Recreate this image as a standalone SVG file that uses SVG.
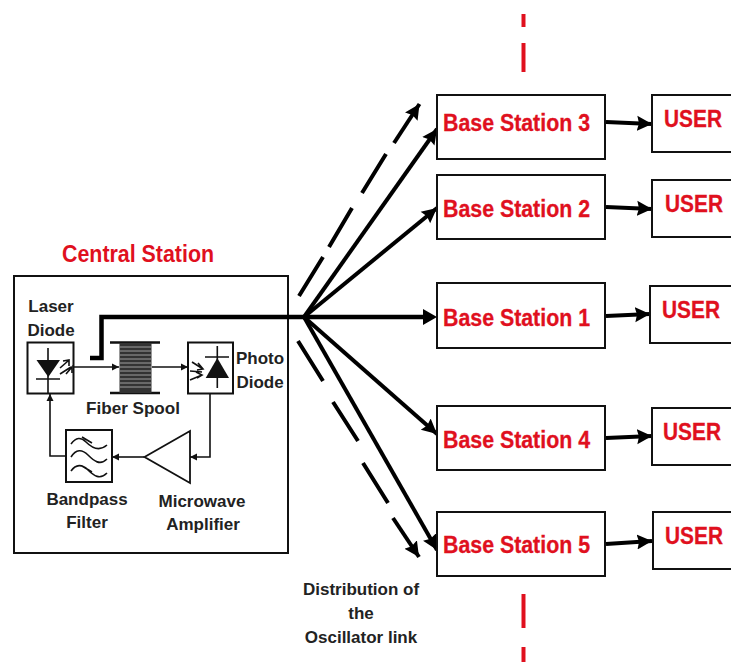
<svg xmlns="http://www.w3.org/2000/svg" width="731" height="662" viewBox="0 0 731 662">
<style>
text{font-family:"Liberation Sans",Arial,sans-serif;font-weight:700}
.b{fill:#fff;stroke:#111;stroke-width:2}
.bs{font-size:23px;fill:#e0101e;stroke:#e0101e;stroke-width:0.300}
.u{font-size:23px;fill:#e0101e;stroke:#e0101e;stroke-width:0.300}
.k{font-size:17px;fill:#222;text-anchor:middle}
.t{fill:none;stroke:#111;stroke-width:1.6}
.f{fill:#111;stroke:none}
.c{fill:none;stroke:#000;stroke-width:4}
.d{fill:none;stroke:#000;stroke-width:4}
.r{fill:none;stroke:#e0101e;stroke-width:4}
</style>
<defs>
<marker id="sm" markerUnits="userSpaceOnUse" markerWidth="8" markerHeight="8" refX="7" refY="4" orient="auto"><path d="M0,0.5L7,4L0,7.5z" fill="#111"/></marker>
<marker id="big" markerUnits="userSpaceOnUse" markerWidth="17" markerHeight="18" refX="15" refY="9" orient="auto"><path d="M0,1.500L15,9L0,16.500L2,9z" fill="#000"/></marker>
</defs>
<g id="divider">
<line class="r" x1="523.500" y1="14" x2="523.500" y2="27"/>
<line class="r" x1="523.500" y1="43" x2="523.500" y2="72"/>
<line class="r" x1="523.500" y1="594" x2="523.500" y2="628"/>
<line class="r" x1="523.500" y1="647" x2="523.500" y2="662"/>
</g>
<g id="central-station">
<text x="138" y="262" font-size="23" fill="#e0101e" text-anchor="middle" textLength="152" lengthAdjust="spacingAndGlyphs">Central Station</text>
<rect class="b" x="14" y="276" width="274" height="277"/>
</g>
<g id="laser-diode">
<text class="k" x="51" y="312">Laser</text><text class="k" x="51" y="336">Diode</text>
<rect class="b" x="27.500" y="342.500" width="46" height="51"/>
<path class="t" d="M48,348V393M36,379H60"/><path class="f" d="M36.500,360H60L48.300,377z"/>
<path class="t" d="M60,368L68,361M60,374L71,367M63,361L69,360L69,366M66,374L72,367L72,373"/>
</g>
<g id="fiber-spool">
<path d="M110,342.500H160M110,393H160" stroke="#111" stroke-width="2.500" fill="none"/>
<rect x="119.500" y="343" width="32" height="50" fill="#333"/>
<path d="M120,347H151M120,351H151M120,355H151M120,359H151M120,363H151M120,367H151M120,371H151M120,375H151M120,379H151M120,383H151M120,387H151" stroke="#bbb" stroke-width="0.800"/>
<text class="k" x="133" y="414" textLength="94" lengthAdjust="spacingAndGlyphs">Fiber Spool</text>
</g>
<g id="photo-diode">
<rect class="b" x="188" y="342.500" width="45" height="51"/>
<path class="t" d="M217.300,346V388M205,357H229"/><path class="f" d="M205.700,378H229L217.300,358z"/>
<path class="t" d="M192,362L203,369M190,371L202,372M190,380L202,375M198,363L203,369L197,370M196,372L202,375L197,378"/>
<text class="k" x="260" y="364">Photo</text><text class="k" x="260" y="388">Diode</text>
</g>
<g id="bandpass-filter">
<rect class="b" x="66" y="430" width="46" height="52"/>
<path class="t" d="M71,444C76,437 81,437 86,442S99,452 107,445M71,457C76,449 82,449 88,455S100,466 107,459M71,471C76,464 82,464 88,470S100,480 107,473M82,437L92,443M82,466L92,472"/>
<text class="k" x="87" y="505">Bandpass</text><text class="k" x="87" y="528">Filter</text>
</g>
<g id="microwave-amplifier">
<path d="M144.500,457L190,431V483z" fill="#fff" stroke="#111" stroke-width="1.800"/>
<text class="k" x="202" y="507">Microwave</text><text class="k" x="203" y="530">Amplifier</text>
</g>
<g id="connectors">
<path class="t" marker-end="url(#sm)" d="M74,367H119"/>
<path class="t" marker-end="url(#sm)" d="M152,367H188"/>
<path class="t" marker-end="url(#sm)" d="M210,394V457H190"/>
<path class="t" marker-end="url(#sm)" d="M144,457H112"/>
<path class="t" marker-end="url(#sm)" d="M66,456H50V394"/>
<path d="M90,358H101.500V317H430" fill="none" stroke="#000" stroke-width="4.500"/>
<path d="M423,309L437,317L423,325z" fill="#000"/>
<path class="c" marker-end="url(#big)" d="M304,317L437,129"/>
<path class="c" marker-end="url(#big)" d="M304,317L437,208"/>
<path class="c" marker-end="url(#big)" d="M304,317L437,434"/>
<path class="c" marker-end="url(#big)" d="M304,317L437,550"/>
<path class="d" d="M299,296L323,257M329,247L352,208M362,193L386,154"/>
<path class="d" marker-end="url(#big)" d="M394,143L419.500,104"/>
<path class="d" d="M298,341L323,381M333,402L358,441M363,463L388,503"/>
<path class="d" marker-end="url(#big)" d="M393,518L419,557"/>
<path class="c" marker-end="url(#big)" d="M606,122L652,124"/>
<path class="c" marker-end="url(#big)" d="M606,207L652,209"/>
<path class="c" marker-end="url(#big)" d="M606,316L650,314"/>
<path class="c" marker-end="url(#big)" d="M606,438L652,436"/>
<path class="c" marker-end="url(#big)" d="M606,544L652,541"/>
</g>
<g id="base-station-3"><rect class="b" x="437" y="95" width="168" height="64"/><text class="bs" x="443" y="131" textLength="147" lengthAdjust="spacingAndGlyphs">Base Station 3</text></g>
<g id="base-station-2"><rect class="b" x="437" y="175" width="168" height="64"/><text class="bs" x="443" y="217" textLength="147" lengthAdjust="spacingAndGlyphs">Base Station 2</text></g>
<g id="base-station-1"><rect class="b" x="437" y="283" width="168" height="65"/><text class="bs" x="443" y="326" textLength="147" lengthAdjust="spacingAndGlyphs">Base Station 1</text></g>
<g id="base-station-4"><rect class="b" x="437" y="406" width="168" height="64"/><text class="bs" x="443" y="448" textLength="147" lengthAdjust="spacingAndGlyphs">Base Station 4</text></g>
<g id="base-station-5"><rect class="b" x="437" y="512" width="168" height="64"/><text class="bs" x="443" y="553" textLength="147" lengthAdjust="spacingAndGlyphs">Base Station 5</text></g>
<g id="user-3"><rect class="b" x="652" y="95" width="82" height="57"/><text class="u" x="664" y="127" textLength="58" lengthAdjust="spacingAndGlyphs">USER</text></g>
<g id="user-2"><rect class="b" x="652" y="180" width="82" height="57"/><text class="u" x="665" y="212" textLength="58" lengthAdjust="spacingAndGlyphs">USER</text></g>
<g id="user-1"><rect class="b" x="650" y="286" width="84" height="57"/><text class="u" x="662" y="318" textLength="58" lengthAdjust="spacingAndGlyphs">USER</text></g>
<g id="user-4"><rect class="b" x="652" y="408" width="82" height="57"/><text class="u" x="663" y="440" textLength="58" lengthAdjust="spacingAndGlyphs">USER</text></g>
<g id="user-5"><rect class="b" x="653" y="512" width="81" height="57"/><text class="u" x="665" y="544" textLength="58" lengthAdjust="spacingAndGlyphs">USER</text></g>
<g id="link-label">
<text class="k" x="361" y="595">Distribution of</text><text class="k" x="361" y="619">the</text><text class="k" x="361" y="643">Oscillator link</text>
</g>
</svg>
